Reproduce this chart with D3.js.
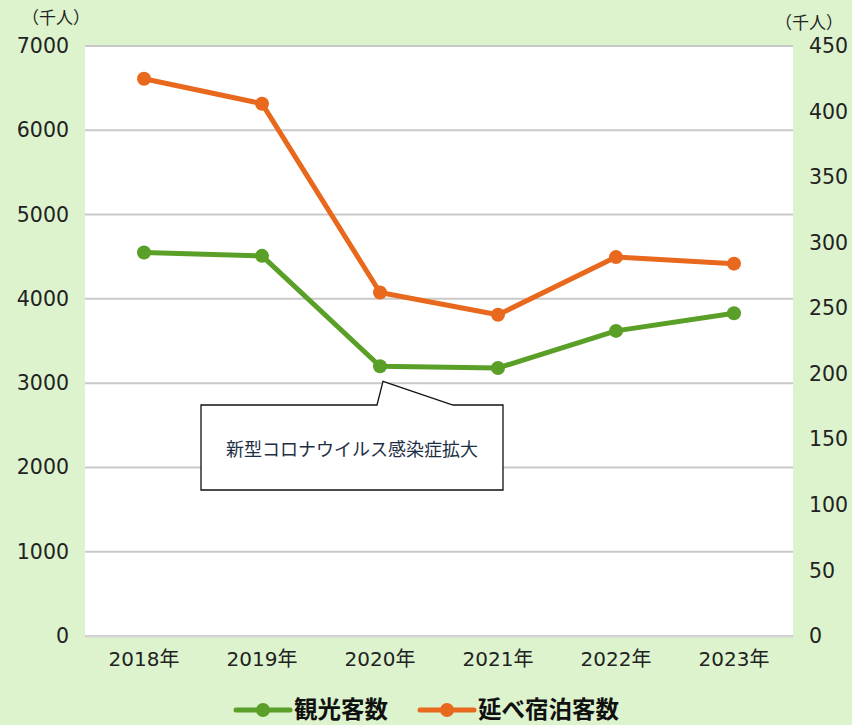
<!DOCTYPE html>
<html><head><meta charset="utf-8">
<script src="https://cdn.jsdelivr.net/npm/d3@7"></script>
<style>
body{margin:0;background:#dcf3cd;}
text{font-family:"Noto Sans CJK JP","Noto Sans",sans-serif;}
.num{font-family:"DejaVu Sans","Noto Sans CJK JP",sans-serif;}
</style></head>
<body>
<svg id="c" width="852" height="725"></svg>
<script>
const categories = ["2018年","2019年","2020年","2021年","2022年","2023年"];
const visitors = [4550, 4510, 3200, 3180, 3620, 3830];      // 観光客数 (left axis, 千人)
const overnight = [425, 406, 262, 245, 289, 284];            // 延べ宿泊客数 (right axis, 千人)
const leftTicks = [0,1000,2000,3000,4000,5000,6000,7000];
const rightTicks = [0,50,100,150,200,250,300,350,400,450];
const seriesNames = ["観光客数","延べ宿泊客数"];
const calloutText = "新型コロナウイルス感染症拡大";

const green = "#5a9f27", orange = "#e8691d";
const svg = d3.select("#c");
svg.append("rect").attr("width",852).attr("height",725).attr("fill","#dcf3cd");

const L=85, R=793, T=46, B=636;
const x = d3.scaleBand().domain(categories).range([L,R]);
const yL = d3.scaleLinear().domain([0,7000]).range([B,T]);
const yR = d3.scaleLinear().domain([0,450]).range([B,T]);

svg.append("rect").attr("x",L).attr("y",T).attr("width",R-L).attr("height",B-T).attr("fill","#fff");

// gridlines
svg.append("g").selectAll("line").data(leftTicks).join("line")
  .attr("x1",L).attr("x2",R).attr("y1",d=>yL(d)).attr("y2",d=>yL(d))
  .attr("stroke","#c9c9c9").attr("stroke-width",2);

// left axis
const gL = svg.append("g").attr("transform",`translate(${L},0)`)
  .call(d3.axisLeft(yL).tickValues(leftTicks).tickSize(0).tickPadding(16).tickFormat(d3.format("d")));
gL.select(".domain").remove();
gL.selectAll("text").attr("class","num").attr("font-size",20.5).attr("fill","#222");

// right axis
const gR = svg.append("g").attr("transform",`translate(${R},0)`)
  .call(d3.axisRight(yR).tickValues(rightTicks).tickSize(0).tickPadding(16).tickFormat(d3.format("d")));
gR.select(".domain").remove();
gR.selectAll("text").attr("class","num").attr("font-size",20.5).attr("fill","#222");

// bottom axis
const gB = svg.append("g").attr("transform",`translate(0,${B})`)
  .call(d3.axisBottom(x).tickSize(0).tickPadding(16));
gB.select(".domain").attr("stroke","#d6d6d6").attr("stroke-width",2);
gB.selectAll("text").attr("class","num").attr("font-size",20).attr("fill","#222");

// unit labels
svg.append("text").attr("x",56).attr("y",24).attr("text-anchor","middle").attr("font-size",17).attr("fill","#222").text("（千人）");
svg.append("text").attr("x",809).attr("y",29).attr("text-anchor","middle").attr("font-size",17).attr("fill","#222").text("（千人）");

const cx = d=>x(d)+x.bandwidth()/2;

function drawSeries(vals, scale, color){
  const line = d3.line().x((d,i)=>cx(categories[i])).y(d=>scale(d));
  svg.append("path").datum(vals).attr("d",line).attr("fill","none")
    .attr("stroke",color).attr("stroke-width",5).attr("stroke-linejoin","round");
  svg.append("g").selectAll("circle").data(vals).join("circle")
    .attr("cx",(d,i)=>cx(categories[i])).attr("cy",d=>scale(d)).attr("r",7).attr("fill",color);
}
drawSeries(visitors, yL, green);
drawSeries(overnight, yR, orange);

// callout
const tipX = cx(categories[2])+3, tipY = yL(visitors[2])+15;
const bx1=201, bx2=503, by1=405, by2=490;
const p = d3.path();
p.moveTo(bx1,by1); p.lineTo(tipX-6,by1); p.lineTo(tipX,tipY); p.lineTo(453,by1);
p.lineTo(bx2,by1); p.lineTo(bx2,by2); p.lineTo(bx1,by2); p.closePath();
svg.append("path").attr("d",p.toString()).attr("fill","#fff").attr("stroke","#111").attr("stroke-width",1.3);
svg.append("text").attr("x",(bx1+bx2)/2).attr("y",456).attr("text-anchor","middle")
  .attr("font-size",18).attr("fill","#1e2f44").text(calloutText);

// legend
const legend = [{name:seriesNames[0],color:green,x:236},{name:seriesNames[1],color:orange,x:420}];
const lg = svg.append("g");
legend.forEach(l=>{
  lg.append("line").attr("x1",l.x).attr("x2",l.x+54).attr("y1",710).attr("y2",710)
    .attr("stroke",l.color).attr("stroke-width",5).attr("stroke-linecap","round");
  lg.append("circle").attr("cx",l.x+27).attr("cy",710).attr("r",7).attr("fill",l.color);
  lg.append("text").attr("x",l.x+58).attr("y",718).attr("font-size",23.5).attr("font-weight","bold")
    .attr("fill","#111").text(l.name);
});
</script>
</body></html>
